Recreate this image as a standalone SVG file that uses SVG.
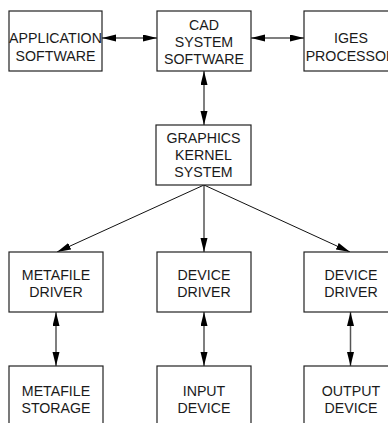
<svg xmlns="http://www.w3.org/2000/svg" width="388" height="423" viewBox="0 0 388 423">
<style>
.box{fill:#fff;stroke:#222;stroke-width:1.2}
.t{font-family:"Liberation Sans",Arial,sans-serif;font-size:14.2px;fill:#1a1a1a;text-anchor:middle}
.c{stroke:#555;stroke-width:1.5;fill:none}
.d{stroke:#111;stroke-width:1;fill:none}
</style>
<defs>
<marker id="ah" markerUnits="userSpaceOnUse" markerWidth="15" markerHeight="8" refX="14" refY="3.5" orient="auto-start-reverse">
<path d="M0,0 L14,3.5 L0,7 z" fill="#000"/>
</marker>
</defs>
<rect width="388" height="423" fill="#fff"/>
<g id="connectors">
<line class="c" x1="102" y1="38" x2="157" y2="38" marker-start="url(#ah)" marker-end="url(#ah)"/>
<line class="c" x1="251" y1="38" x2="304" y2="38" marker-start="url(#ah)" marker-end="url(#ah)"/>
<line class="c" x1="204" y1="71" x2="204" y2="125" marker-start="url(#ah)" marker-end="url(#ah)"/>
<line class="d" x1="204" y1="185" x2="57" y2="252" marker-end="url(#ah)"/>
<line class="c" x1="204" y1="185" x2="204" y2="252" marker-end="url(#ah)"/>
<line class="d" x1="204" y1="185" x2="350" y2="252" marker-end="url(#ah)"/>
<line class="c" x1="56" y1="312" x2="56" y2="366" marker-start="url(#ah)" marker-end="url(#ah)"/>
<line class="c" x1="204" y1="312" x2="204" y2="366" marker-start="url(#ah)" marker-end="url(#ah)"/>
<line class="c" x1="350.5" y1="312" x2="350.5" y2="366" marker-start="url(#ah)" marker-end="url(#ah)"/>
</g>
<g id="app">
<rect class="box" x="9" y="11" width="93" height="60"/>
<text class="t" x="55.5" y="43">APPLICATION</text>
<text class="t" x="55.5" y="61">SOFTWARE</text>
</g>
<g id="cad">
<rect class="box" x="157" y="11" width="94" height="60"/>
<text class="t" x="204" y="30">CAD</text>
<text class="t" x="204" y="47">SYSTEM</text>
<text class="t" x="204" y="64">SOFTWARE</text>
</g>
<g id="iges">
<rect class="box" x="304" y="11" width="94" height="60"/>
<text class="t" x="351" y="43">IGES</text>
<text class="t" x="351" y="61">PROCESSOR</text>
</g>
<g id="gks">
<rect class="box" x="156" y="125" width="95" height="60"/>
<text class="t" x="203.5" y="143">GRAPHICS</text>
<text class="t" x="203.5" y="160">KERNEL</text>
<text class="t" x="203.5" y="177">SYSTEM</text>
</g>
<g id="metafile-driver">
<rect class="box" x="9" y="252" width="94" height="60"/>
<text class="t" x="56" y="280">METAFILE</text>
<text class="t" x="56" y="297">DRIVER</text>
</g>
<g id="device-driver-1">
<rect class="box" x="157" y="252" width="94" height="60"/>
<text class="t" x="204" y="280">DEVICE</text>
<text class="t" x="204" y="297">DRIVER</text>
</g>
<g id="device-driver-2">
<rect class="box" x="304" y="252" width="94" height="60"/>
<text class="t" x="351" y="280">DEVICE</text>
<text class="t" x="351" y="297">DRIVER</text>
</g>
<g id="metafile-storage">
<rect class="box" x="9" y="366" width="94" height="62"/>
<text class="t" x="56" y="396">METAFILE</text>
<text class="t" x="56" y="413">STORAGE</text>
</g>
<g id="input-device">
<rect class="box" x="157" y="366" width="94" height="62"/>
<text class="t" x="204" y="396">INPUT</text>
<text class="t" x="204" y="413">DEVICE</text>
</g>
<g id="output-device">
<rect class="box" x="304" y="366" width="94" height="62"/>
<text class="t" x="351" y="396">OUTPUT</text>
<text class="t" x="351" y="413">DEVICE</text>
</g>
</svg>
